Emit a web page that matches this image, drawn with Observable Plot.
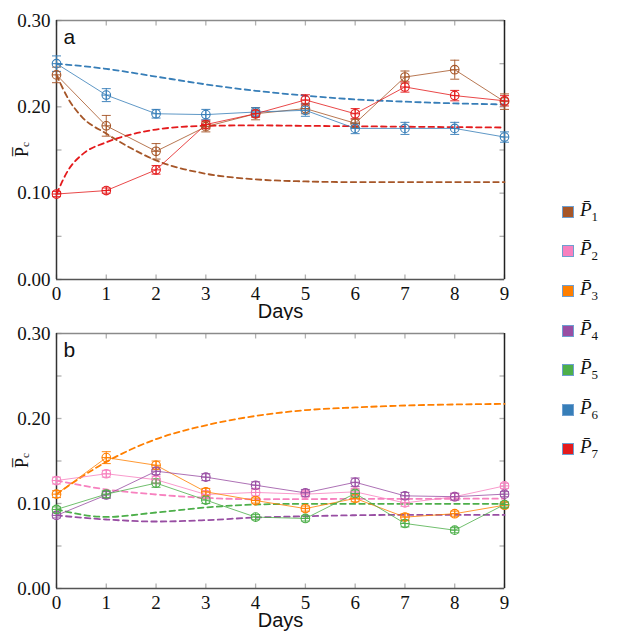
<!DOCTYPE html>
<html><head><meta charset="utf-8">
<script src="https://cdn.jsdelivr.net/npm/d3@7"></script>
<script src="https://cdn.jsdelivr.net/npm/@observablehq/plot@0.6"></script>
<style>
body{margin:0;background:#fff;}
#wrap{position:relative;width:623px;height:635px;overflow:hidden;}
#a{position:absolute;left:0;top:0;}
#b{position:absolute;left:0;top:320px;}
#legend{position:absolute;left:562px;top:192px;}
.item{height:39.6px;display:flex;align-items:center;font-style:italic;font-size:19px;color:#111;}
.sw{width:10px;height:10px;border:1.5px solid #6e9fd0;margin-right:6px;box-sizing:content-box;}
.item sub{font-style:normal;font-size:13px;}
</style></head>
<body><div id="wrap"><div id="a"></div><div id="b"></div><div id="legend"></div></div>
<script>
const days = [0,1,2,3,4,5,6,7,8,9];
const keys = ["1","2","3","4","5","6","7"];
const colors = ["#a65628","#f781bf","#ff7f00","#984ea3","#4daf4a","#377eb8","#e41a1c"];
const yTickLabels = [0, 0.1, 0.2, 0.3];
const yMinorTicks = [0, 0.05, 0.1, 0.15, 0.2, 0.25, 0.3];

// panel a observed means and errors
const p1 = [0.237,0.178,0.1485,0.177,0.192,0.198,0.181,0.2345,0.243,0.206];
const p1Err = [0.009,0.012,0.009,0.006,0.007,0.006,0.005,0.007,0.011,0.009];
const p6 = [0.250,0.2136,0.192,0.191,0.194,0.196,0.175,0.175,0.175,0.165];
const p6Err = [0.009,0.0075,0.005,0.006,0.005,0.007,0.006,0.007,0.007,0.006];
const p7 = [0.099,0.103,0.127,0.1795,0.192,0.208,0.192,0.223,0.213,0.207];
const p7Err = [0.003,0.003,0.005,0.005,0.004,0.006,0.006,0.006,0.006,0.006];
// panel a fitted curves
const fitDaysA = [0,0.25,0.5,1,1.5,2,3,4,5,6,7,8,9];
const fit1 = [0.237,0.208,0.189,0.169,0.152,0.138,0.1225,0.116,0.1136,0.1128,0.1128,0.1128,0.1128];
const fit7 = [0.099,0.128,0.144,0.159,0.168,0.1737,0.178,0.1785,0.178,0.1775,0.177,0.1765,0.176];
const fit6 = [0.25,0.244,0.235,0.226,0.2186,0.213,0.2086,0.206,0.204,0.2028];

// panel b observed means and errors
const p2 = [0.127,0.135,0.128,0.1106,0.113,0.111,0.1137,0.1007,0.108,0.1207];
const p2Err = [0.004,0.004,0.004,0.004,0.004,0.003,0.004,0.004,0.004,0.003];
const p3 = [0.111,0.154,0.145,0.1137,0.1035,0.094,0.106,0.084,0.088,0.098];
const p3Err = [0.004,0.007,0.005,0.004,0.003,0.003,0.004,0.004,0.003,0.003];
const p4 = [0.086,0.110,0.138,0.131,0.1215,0.1125,0.125,0.109,0.108,0.111];
const p4Err = [0.003,0.004,0.004,0.004,0.004,0.004,0.005,0.004,0.004,0.003];
const p5 = [0.093,0.111,0.124,0.104,0.084,0.0824,0.1118,0.0765,0.0686,0.0988];
const p5Err = [0.003,0.004,0.005,0.004,0.003,0.003,0.004,0.004,0.003,0.003];
// panel b fitted curves
const fit2 = [0.127,0.1165,0.1106,0.1066,0.105,0.1052,0.1054,0.1055,0.1056,0.1057];
const fit3 = [0.111,0.149,0.1757,0.192,0.203,0.2098,0.213,0.2153,0.2165,0.2172];
const fit4 = [0.086,0.0812,0.0788,0.0804,0.0835,0.085,0.0862,0.0866,0.0866,0.0866];
const fit5 = [0.093,0.0842,0.0894,0.0953,0.0988,0.0996,0.0996,0.0996,0.0996,0.0996];

// pick an installed serif face
function fontAvailable(name) {
  const c = document.createElement("canvas").getContext("2d");
  const s = "0.123456789 PDaysmmwwiiQ";
  return ["monospace", "sans-serif", "serif"].some(base => {
    c.font = `40px ${base}`; const w0 = c.measureText(s).width;
    c.font = `40px "${name}", ${base}`; return c.measureText(s).width !== w0;
  });
}
const serifName = ["Liberation Serif", "DejaVu Serif", "Noto Serif", "Tinos", "Times New Roman", "FreeSerif", "Nimbus Roman", "TeX Gyre Termes"].find(fontAvailable);
const SERIF = serifName ? `"${serifName}", serif` : "serif";
const serifScale = serifName === "DejaVu Serif" ? 0.88 : 1;
const SANS = "'Liberation Sans', Arial, Helvetica, sans-serif";

const col = k => colors[keys.indexOf(k)];

// custom symbols
const capSym = {draw(ctx, size){const r=Math.sqrt(size/Math.PI); ctx.moveTo(-r,0); ctx.lineTo(r,0);}};
const crossSym = {draw(ctx, size){const r=Math.sqrt(size/Math.PI); ctx.moveTo(-r,0); ctx.lineTo(r,0); ctx.moveTo(0,-r); ctx.lineTo(0,r);}};
const tickUp = {draw(ctx){ctx.moveTo(0,0); ctx.lineTo(0,-5);}};
const tickDown = {draw(ctx){ctx.moveTo(0,0); ctx.lineTo(0,5);}};
const tickRight = {draw(ctx){ctx.moveTo(0,0); ctx.lineTo(5,0);}};
const tickLeft = {draw(ctx){ctx.moveTo(0,0); ctx.lineTo(-5,0);}};

function panel(el, letter, obs, fits, height, marginTop, marginBottom) {
  const obsRows = obs.flatMap(s => days.map((d,i)=>({day:d, v:s.v[i], e:s.e[i], c:col(s.k), k:s.k})));
  const fitRows = fits.flatMap(s => s.t.map((d,i)=>({day:d, v:s.v[i], c:col(s.k), k:s.k})));
  const fs = 19 * serifScale;
  const chart = Plot.plot({
    width: 530, height, marginLeft: 56, marginRight: 26, marginTop, marginBottom,
    x: {domain: [0, 9]},
    y: {domain: [0, 0.3]},
    style: {fontFamily: SERIF, fontSize: `${fs}px`, background: "white", color: "#111", overflow: "visible"},
    marks: [
      Plot.dot(days, {x: d=>d, y: 0, symbol: tickUp, r: 3, stroke: "#b0b0b0", fill: "none", strokeWidth: 1.3}),
      Plot.dot(days, {x: d=>d, y: 0.3, symbol: tickDown, r: 3, stroke: "#b0b0b0", fill: "none", strokeWidth: 1.3}),
      Plot.dot(yMinorTicks, {x: 0, y: d=>d, symbol: tickRight, r: 3, stroke: "#b0b0b0", fill: "none", strokeWidth: 1.3}),
      Plot.dot(yMinorTicks, {x: 9, y: d=>d, symbol: tickLeft, r: 3, stroke: "#b0b0b0", fill: "none", strokeWidth: 1.3}),
      Plot.ruleY([0.3], {stroke: "#8a8a8a", strokeWidth: 1.5}),
      Plot.ruleY([0], {stroke: "#555", strokeWidth: 1.5}),
      Plot.ruleX([0], {stroke: "#333", strokeWidth: 1.5}),
      Plot.ruleX([9], {stroke: "#222", strokeWidth: 1.5}),
      Plot.line(fitRows, {x: "day", y: "v", z: "k", stroke: "c", strokeWidth: 1.8, strokeDasharray: "5.5,4", curve: "monotone-x"}),
      Plot.line(obsRows, {x: "day", y: "v", z: "k", stroke: "c", strokeWidth: 1, strokeOpacity: 0.8}),
      Plot.ruleX(obsRows, {x: "day", y1: d=>d.v-d.e, y2: d=>d.v+d.e, stroke: "c", strokeWidth: 1.1, strokeOpacity: 0.85}),
      Plot.dot(obsRows, {x: "day", y: d=>d.v+d.e, symbol: capSym, r: 4.5, stroke: "c", fill: "none", strokeWidth: 1.1, strokeOpacity: 0.85}),
      Plot.dot(obsRows, {x: "day", y: d=>d.v-d.e, symbol: capSym, r: 4.5, stroke: "c", fill: "none", strokeWidth: 1.1, strokeOpacity: 0.85}),
      Plot.dot(obsRows, {x: "day", y: "v", r: 4.3, stroke: "c", fill: "none", strokeWidth: 1.1}),
      Plot.dot(obsRows, {x: "day", y: "v", symbol: crossSym, r: 4.3, stroke: "c", fill: "none", strokeWidth: 1}),
      Plot.axisX({ticks: days, tickSize: 0, tickPadding: 7, tickFormat: d=>String(d), label: null, fontFamily: SERIF}),
      Plot.axisY({ticks: yTickLabels, tickSize: 0, tickPadding: 6, tickFormat: d3.format(".2f"), label: null, fontFamily: SERIF}),
      Plot.text(["Days"], {frameAnchor: "bottom", lineAnchor: "middle", dy: 32, fontFamily: SANS, fontSize: 20, fill: "#111"}),
      Plot.text([letter], {frameAnchor: "top-left", lineAnchor: "middle", dx: 7, dy: 17, textAnchor: "start", fontFamily: SANS, fontSize: 21, fill: "#111"})
    ]
  });
  const svg = d3.select(chart);
  const cy = marginTop + (height - marginTop - marginBottom) / 2;
  const t = svg.append("text")
    .attr("transform", `translate(28,${cy}) rotate(-90)`)
    .attr("text-anchor", "middle")
    .attr("font-family", SERIF)
    .style("font-family", SERIF)
    .attr("font-size", 18 * serifScale)
    .attr("fill", "#111");
  t.append("tspan").text("P\u0305");
  t.append("tspan").attr("font-size", 11).attr("dy", 1).text("c");
  document.getElementById(el).appendChild(chart);
}

panel("a", "a",
  [{k:"1", v:p1, e:p1Err}, {k:"6", v:p6, e:p6Err}, {k:"7", v:p7, e:p7Err}],
  [{k:"1", t:fitDaysA, v:fit1}, {k:"7", t:fitDaysA, v:fit7}, {k:"6", t:days, v:fit6}],
  320, 20, 41);
panel("b", "b",
  [{k:"2", v:p2, e:p2Err}, {k:"3", v:p3, e:p3Err}, {k:"4", v:p4, e:p4Err}, {k:"5", v:p5, e:p5Err}],
  [{k:"2", t:days, v:fit2}, {k:"3", t:days, v:fit3}, {k:"4", t:days, v:fit4}, {k:"5", t:days, v:fit5}],
  315, 13, 47);

const leg = d3.select("#legend");
keys.forEach((k, i) => {
  const it = leg.append("div").attr("class", "item").style("font-family", SERIF);
  it.append("div").attr("class", "sw").style("background", colors[i]);
  const lab = it.append("span");
  lab.append("span").text("P\u0304");
  lab.append("sub").text(k);
});
</script>
</body></html>
